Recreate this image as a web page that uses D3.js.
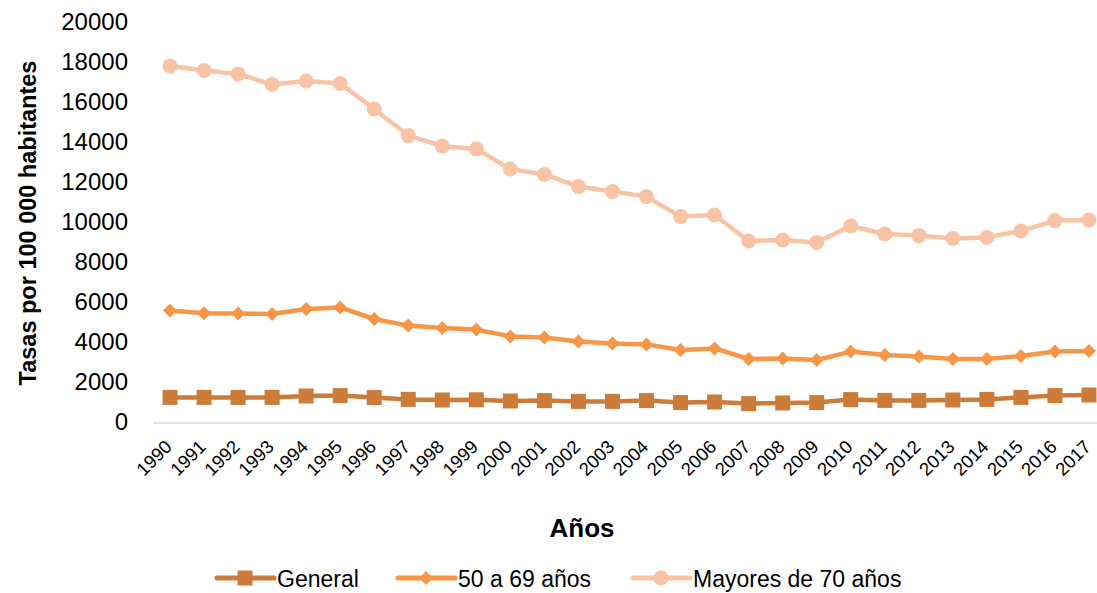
<!DOCTYPE html>
<html>
<head>
<meta charset="utf-8">
<script src="https://cdn.jsdelivr.net/npm/d3@7"></script>
<style>
  body { margin: 0; background: #fff; }
  svg { font-family: "Liberation Sans", Arial, sans-serif; }
</style>
</head>
<body>
<div id="chart"></div>
<script>
const years = d3.range(1990, 2018).map(String);

const general = [1230, 1230, 1230, 1230, 1300, 1320, 1220, 1130, 1100, 1110,
  1050, 1070, 1030, 1030, 1070, 970, 1000, 920, 950, 970,
  1120, 1080, 1080, 1100, 1130, 1230, 1320, 1350];

const edad50a69 = [5570, 5440, 5420, 5400, 5650, 5730, 5150, 4820, 4700, 4620,
  4280, 4220, 4020, 3930, 3880, 3600, 3680, 3150, 3170, 3100,
  3520, 3350, 3270, 3150, 3150, 3300, 3520, 3550];

const mayores70 = [17800, 17570, 17400, 16880, 17050, 16930, 15650, 14320, 13800, 13650,
  12650, 12380, 11770, 11520, 11270, 10270, 10350, 9050, 9100, 8980,
  9800, 9400, 9320, 9180, 9230, 9550, 10070, 10100];

const yTicks = d3.range(0, 20001, 2000);

const series = [
  {name: "General", values: general, color: "#CD7B38", marker: "square"},
  {name: "50 a 69 años", values: edad50a69, color: "#F79646", marker: "diamond"},
  {name: "Mayores de 70 años", values: mayores70, color: "#F9C3A6", marker: "circle"}
];

const W = 1097, H = 593;
const svg = d3.select("#chart").append("svg")
  .attr("width", W).attr("height", H);

const x = d3.scaleBand().domain(years).range([153, 1106]);
const y = d3.scaleLinear().domain([0, 20000]).range([422, 22]);

// y axis labels
const yAxis = svg.append("g")
  .attr("transform", "translate(128,0)")
  .call(d3.axisLeft(y).tickValues(yTicks).tickFormat(d3.format("d")).tickSize(0).tickPadding(0));
yAxis.select(".domain").remove();
yAxis.selectAll("text")
  .attr("font-size", 24).attr("fill", "#000")
  .attr("font-family", "Liberation Sans, Arial, sans-serif");

// baseline
svg.append("line")
  .attr("x1", 153).attr("x2", 1106)
  .attr("y1", y(0) + 1).attr("y2", y(0) + 1)
  .attr("stroke", "#d9d9d9").attr("stroke-width", 1.5);

// x axis labels
const xAxis = svg.append("g")
  .attr("transform", `translate(0,${y(0)})`)
  .call(d3.axisBottom(x).tickSize(0).tickPadding(0));
xAxis.select(".domain").remove();
xAxis.selectAll("text")
  .attr("font-size", 18.5).attr("fill", "#000")
  .attr("font-family", "Liberation Sans, Arial, sans-serif")
  .attr("text-anchor", "end")
  .attr("dy", null).attr("y", 0)
  .attr("transform", "translate(3,26) rotate(-45)");

// axis titles
svg.append("text")
  .attr("transform", "translate(36,223) rotate(-90)")
  .attr("text-anchor", "middle")
  .attr("font-size", 23.5).attr("font-weight", "bold")
  .text("Tasas por 100 000 habitantes");

svg.append("text")
  .attr("x", 582).attr("y", 537)
  .attr("text-anchor", "middle")
  .attr("font-size", 26).attr("font-weight", "bold")
  .text("Años");

const cx = d => x(d) + x.bandwidth() / 2;

function drawMarker(g, type, color) {
  if (type === "square") {
    g.append("rect").attr("x", -7.5).attr("y", -7.5).attr("width", 15).attr("height", 15).attr("fill", color);
  } else if (type === "diamond") {
    g.append("path").attr("d", "M0,-7L7,0L0,7L-7,0Z").attr("fill", color);
  } else {
    g.append("circle").attr("r", 7.5).attr("fill", color);
  }
}

const line = d3.line().x((d, i) => cx(years[i])).y(d => y(d));

// draw back to front: Mayores, 50-69, General
series.slice().reverse().forEach(s => {
  svg.append("path")
    .datum(s.values)
    .attr("d", line)
    .attr("fill", "none")
    .attr("stroke", s.color)
    .attr("stroke-width", 4.5)
    .attr("stroke-linejoin", "round");
  svg.append("g").selectAll("g")
    .data(s.values)
    .join("g")
    .attr("transform", (d, i) => `translate(${cx(years[i])},${y(d)})`)
    .each(function () { drawMarker(d3.select(this), s.marker, s.color); });
});

// legend
const legendX = [217, 398, 633];
series.forEach((s, i) => {
  const g = svg.append("g").attr("transform", `translate(${legendX[i]},578)`);
  g.append("line").attr("x1", 0).attr("x2", 57).attr("y1", 0).attr("y2", 0)
    .attr("stroke", s.color).attr("stroke-width", 5).attr("stroke-linecap", "round");
  const m = g.append("g").attr("transform", "translate(28,0)");
  drawMarker(m, s.marker, s.color);
  g.append("text").attr("x", 60).attr("y", 8.5)
    .attr("font-size", 23).attr("fill", "#000")
    .text(s.name);
});
</script>
</body>
</html>
